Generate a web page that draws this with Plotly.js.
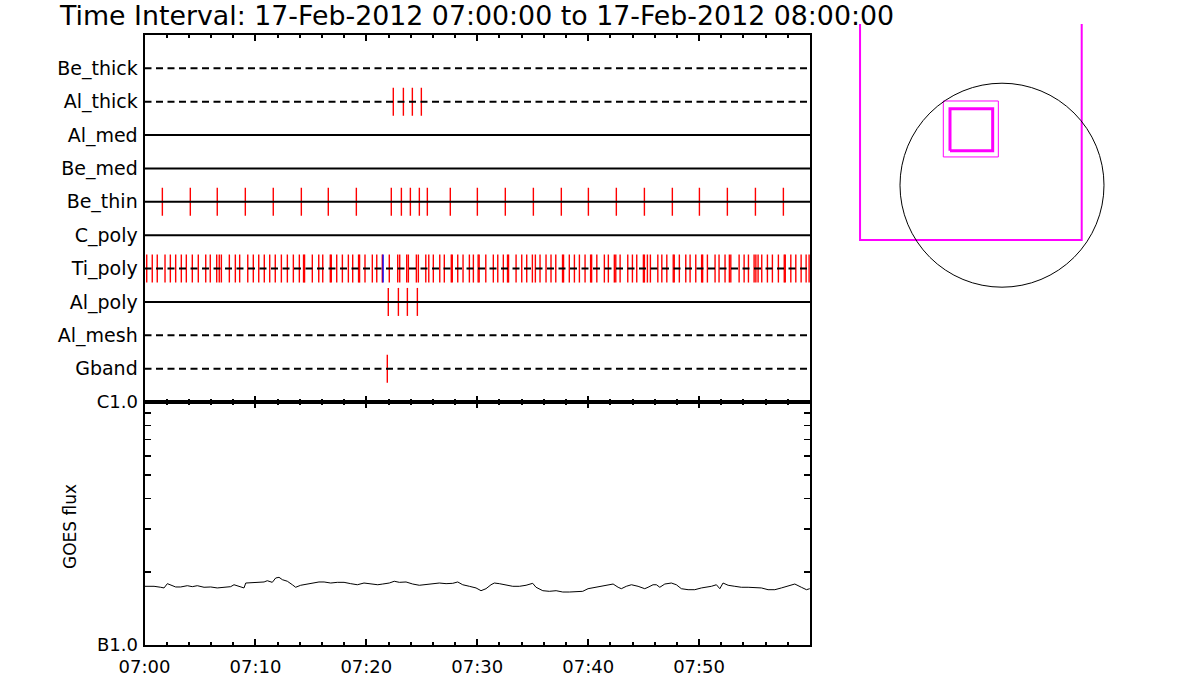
<!DOCTYPE html>
<html>
<head>
<meta charset="utf-8">
<script src="https://cdn.plot.ly/plotly-3.0.1.min.js"></script>
<style>html,body{margin:0;padding:0;background:#fff;}#chart{width:1200px;height:700px;}</style>
</head>
<body>
<div id="chart"></div>
<script>
// ---------- DATA ----------
const titleText = 'Time Interval: 17-Feb-2012 07:00:00 to 17-Feb-2012 08:00:00';
const rowLabels = ['Be_thick','Al_thick','Al_med','Be_med','Be_thin','C_poly','Ti_poly','Al_poly','Al_mesh','Gband'];

// x tick labels (minutes after 07:00)
const xTickVals = [0, 10, 20, 30, 40, 50];
const xTickText = ['07:00','07:10','07:20','07:30','07:40','07:50'];
const xRange = [0, 60];

// event times (minutes after 07:00) per detector row
const alThickTimes = [22.43, 23.34, 24.15, 24.96];
const beThinTimes = [1.61, 4.13, 6.56, 9.09, 11.61, 14.14, 16.57, 19.10, 22.25, 23.16, 23.97, 24.78, 25.50,
  27.57, 30.01, 32.53, 35.06, 37.58, 40.02, 42.54, 45.07, 47.59, 50.03, 52.55, 55.08, 57.60];
const tiPolyTimes = [0.20,0.70,1.15,1.85,2.33,2.81,3.32,3.77,4.31,4.85,5.52,5.93,6.51,6.74,6.93,7.65,8.19,8.58,
  9.31,9.81,10.30,10.80,11.29,11.79,12.34,12.88,13.42,13.96,14.34,14.43,15.13,15.71,16.07,16.75,16.84,17.33,
  17.84,18.38,18.77,19.30,19.39,19.88,20.54,20.94,21.44,22.07,22.83,23.01,23.64,23.79,24.51,24.69,25.36,25.63,
  26.04,26.62,27.03,27.66,27.75,28.24,28.72,29.29,29.65,30.08,30.17,30.77,31.45,31.85,32.35,32.73,32.82,33.50,
  34.01,34.46,34.97,35.24,35.66,36.20,36.65,37.08,37.69,37.78,38.30,38.76,39.21,39.72,40.22,40.31,40.78,41.46,
  41.82,42.36,42.49,42.88,43.57,43.99,44.38,44.98,45.07,45.34,45.61,46.28,46.64,47.09,47.67,47.76,48.22,48.80,
  49.19,49.70,50.23,50.32,50.75,51.44,51.80,52.34,52.73,52.86,53.61,54.06,54.45,54.96,55.12,55.32,55.65,56.16,
  56.61,57.15,57.68,57.77,58.27,58.72,59.20,59.65,59.92];
const tiPolyBlueTimes = [21.51];
const alPolyTimes = [21.98, 22.89, 23.70, 24.60];
const gbandTimes = [21.89];

// GOES flux (minutes after 07:00, flux in units of 1e-7 W/m^2)
const goesMinutes = [0.00,0.86,1.46,1.76,2.06,2.36,2.81,3.26,3.86,4.31,4.76,5.37,5.97,6.56,7.17,7.77,8.07,8.67,8.97,
  9.13,9.87,10.78,11.07,11.52,11.83,12.13,12.43,12.88,13.33,13.63,14.08,14.68,15.28,15.73,16.19,16.79,17.38,17.99,
  18.59,19.19,19.79,20.58,21.03,21.48,22.07,22.52,22.98,23.58,24.18,24.78,25.38,25.99,26.58,27.19,27.79,28.24,
  28.69,29.29,29.89,30.34,30.79,31.24,31.54,31.99,32.60,33.20,33.80,34.40,35.00,35.30,35.91,36.50,37.11,37.71,
  38.30,38.91,39.51,39.99,40.60,41.19,41.79,42.25,42.70,42.99,43.44,43.90,44.50,45.10,45.40,45.85,46.15,46.46,
  46.91,47.50,47.95,48.40,49.01,49.61,50.21,50.66,51.11,51.56,51.87,52.16,52.62,53.22,53.81,54.42,55.02,55.62,
  56.22,56.83,57.42,58.02,58.63,59.22,59.68,59.98];
const goesFluxB = [1.744,1.744,1.728,1.717,1.788,1.761,1.733,1.733,1.754,1.738,1.754,1.728,1.733,1.717,1.728,1.738,
  1.770,1.728,1.717,1.799,1.811,1.817,1.839,1.811,1.887,1.899,1.857,1.829,1.770,1.728,1.761,1.782,1.799,1.817,
  1.817,1.799,1.811,1.811,1.788,1.770,1.799,1.788,1.770,1.782,1.799,1.829,1.811,1.817,1.782,1.761,1.770,1.782,
  1.799,1.788,1.794,1.817,1.770,1.744,1.717,1.673,1.705,1.770,1.799,1.788,1.761,1.744,1.744,1.761,1.794,1.728,
  1.673,1.663,1.673,1.652,1.652,1.652,1.663,1.705,1.728,1.744,1.770,1.782,1.728,1.705,1.744,1.770,1.744,1.705,
  1.728,1.770,1.770,1.728,1.782,1.799,1.770,1.705,1.689,1.689,1.717,1.728,1.744,1.770,1.705,1.799,1.761,1.744,
  1.728,1.728,1.717,1.717,1.689,1.689,1.717,1.744,1.782,1.728,1.689,1.705];
const fluxTickVals = [1e-7,2e-7,3e-7,4e-7,5e-7,6e-7,7e-7,8e-7,9e-7,1e-6];
const fluxTickText = ['B1.0','','','','','','','','','C1.0'];
const fluxTitle = 'GOES flux';

// right panel (arcsec): solar disk, field-of-view outline, pointing boxes
const diskCenter = [0, 0];
const diskRadius = 975;
const fovX = [-1357, -1357, 762, 762];
const fovY = [1700, -524, -524, 1700];
const outerBoxX = [-561, -35, -35, -561, -561];
const outerBoxY = [270, 270, 805, 805, 270];
const innerBoxX = [-497, -89, -89, -497, -497];
const innerBoxY = [330, 330, 732, 732, 330];

// ---------- STYLE ----------
const rowDash = ['7px,4.5px','7px,4.5px','solid','solid','solid','solid','7px,4.5px','solid','7px,4.5px','7px,4.5px'];
const FONT = 'DejaVu Sans';
const rowIdx = name => rowLabels.indexOf(name);

function tickTrace(times, row, color) {
  return {
    x: times, y: times.map(() => rowIdx(row)),
    type: 'scatter', mode: 'markers', xaxis: 'x2', yaxis: 'y2',
    marker: {symbol: 'line-ns', size: 20, color: color, line: {color: color, width: 1.4}},
    hoverinfo: 'skip', showlegend: false
  };
}

const traces = [];
traces.push(tickTrace(alThickTimes, 'Al_thick', '#ff0000'));
traces.push(tickTrace(beThinTimes, 'Be_thin', '#ff0000'));
traces.push(tickTrace(tiPolyTimes, 'Ti_poly', '#ff0000'));
traces.push(tickTrace(tiPolyBlueTimes, 'Ti_poly', '#0000ff'));
traces.push(tickTrace(alPolyTimes, 'Al_poly', '#ff0000'));
traces.push(tickTrace(gbandTimes, 'Gband', '#ff0000'));

rowLabels.forEach((name, i) => {
  traces.push({
    x: xRange, y: [i, i], type: 'scatter', mode: 'lines', xaxis: 'x2', yaxis: 'y2',
    line: {color: '#000', width: 2, dash: rowDash[i]}, hoverinfo: 'skip', showlegend: false
  });
});

traces.push({
  x: goesMinutes, y: goesFluxB.map(v => v * 1e-7), type: 'scatter', mode: 'lines',
  xaxis: 'x', yaxis: 'y', line: {color: '#000', width: 1}, hoverinfo: 'skip', showlegend: false
});

traces.push({x: fovX, y: fovY, type: 'scatter', mode: 'lines', xaxis: 'x3', yaxis: 'y3',
  line: {color: '#ff00ff', width: 2}, hoverinfo: 'skip', showlegend: false});
traces.push({x: outerBoxX, y: outerBoxY, type: 'scatter', mode: 'lines', xaxis: 'x3', yaxis: 'y3',
  line: {color: '#ff00ff', width: 1}, hoverinfo: 'skip', showlegend: false});
traces.push({x: innerBoxX, y: innerBoxY, type: 'scatter', mode: 'lines', xaxis: 'x3', yaxis: 'y3',
  line: {color: '#ff00ff', width: 3}, hoverinfo: 'skip', showlegend: false});

const W = 1200, H = 700;
const xDom = [144.5 / W, 810 / W];
const upperDom = [1 - 402 / H, 1 - 35 / H];
const lowerDom = [1 - 645 / H, 1 - 402 / H];

const tickFont = {family: FONT, size: 18, color: '#000'};
const rowFont = {family: FONT, size: 19, color: '#000'};
const xCommon = {
  domain: xDom, range: xRange, showline: true, linewidth: 2, linecolor: '#000',
  mirror: 'ticks', ticks: 'inside', ticklen: 6, tickwidth: 2, tickcolor: '#000',
  tickvals: xTickVals, ticktext: xTickText, showgrid: false, zeroline: false, fixedrange: true,
  minor: {dtick: 2, tick0: 0, ticks: 'inside', ticklen: 3, tickwidth: 2, tickcolor: '#000', showgrid: false},
  tickfont: tickFont, automargin: false
};

const layout = {
  width: W, height: H,
  margin: {l: 0, r: 0, t: 0, b: 0, pad: 0},
  paper_bgcolor: '#fff', plot_bgcolor: 'rgba(0,0,0,0)',
  showlegend: false,
  title: {text: titleText, x: 60 / W, xanchor: 'left', y: 1 - 16 / H, yanchor: 'middle',
    font: {family: FONT, size: 26.8, color: '#000'}},
  xaxis: Object.assign({}, xCommon, {anchor: 'y', ticklabelstandoff: 4}),
  xaxis2: Object.assign({}, xCommon, {anchor: 'y2', matches: 'x', showticklabels: false}),
  yaxis: {
    domain: lowerDom, type: 'log', range: [-7, -6], anchor: 'x',
    showline: true, linewidth: 2, linecolor: '#000', mirror: 'ticks',
    ticks: 'inside', ticklen: 6, tickwidth: 1.5, tickcolor: '#000',
    tickvals: fluxTickVals, ticktext: fluxTickText, tickfont: tickFont,
    ticklabelstandoff: 1, showgrid: false, zeroline: false, fixedrange: true, automargin: false
  },
  yaxis2: {
    domain: upperDom, range: [10, -1], anchor: 'x2',
    showline: true, linewidth: 2, linecolor: '#000', mirror: true,
    ticks: '', tickvals: rowLabels.map((_, i) => i), ticktext: rowLabels, tickfont: rowFont,
    ticklabelstandoff: 1, showgrid: false, zeroline: false, fixedrange: true, automargin: false
  },
  xaxis3: {domain: [850 / W, 1110 / W], range: [-1453, 1032.5], anchor: 'y3', visible: false, fixedrange: true},
  yaxis3: {domain: [1 - 300 / H, 1 - 24 / H], range: [-1097.5, 1541], anchor: 'x3', visible: false, fixedrange: true},
  shapes: [{
    type: 'circle', xref: 'x3', yref: 'y3',
    x0: diskCenter[0] - diskRadius, x1: diskCenter[0] + diskRadius,
    y0: diskCenter[1] - diskRadius, y1: diskCenter[1] + diskRadius,
    line: {color: '#000', width: 1}
  }],
  annotations: [{
    text: fluxTitle, xref: 'paper', yref: 'paper', x: 70 / W, y: 1 - 527 / H,
    xanchor: 'center', yanchor: 'middle', textangle: -90, showarrow: false,
    font: {family: FONT, size: 17, color: '#000'}
  }]
};

Plotly.newPlot('chart', traces, layout, {displayModeBar: false, staticPlot: true});
</script>
</body>
</html>
